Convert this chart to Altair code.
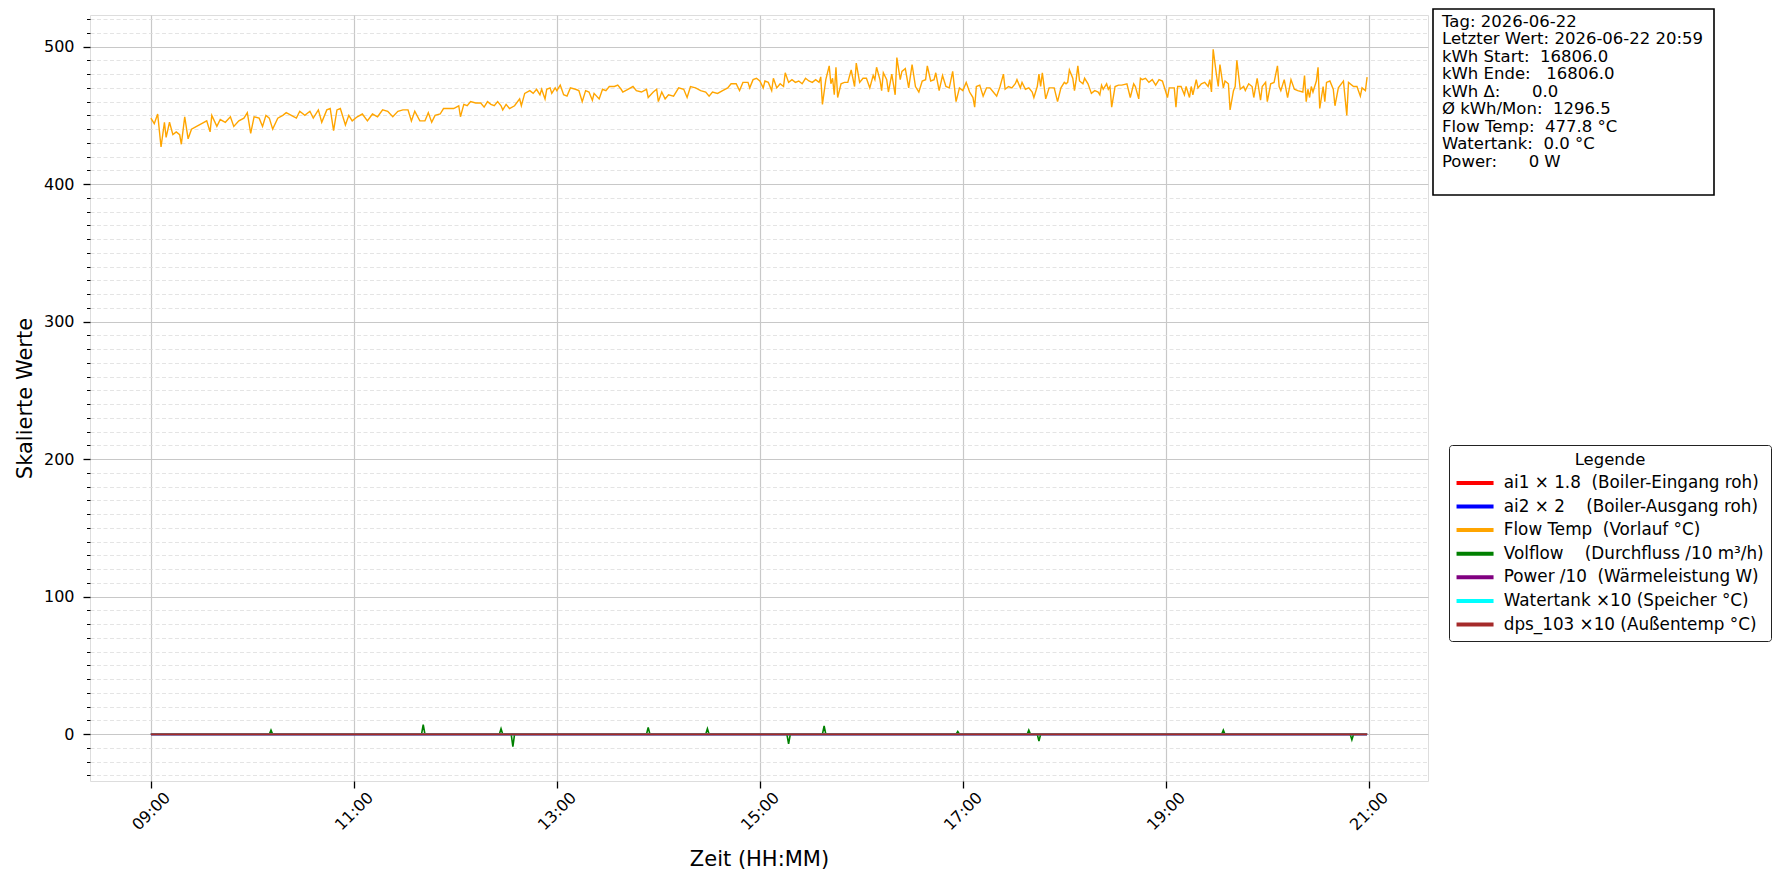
import altair as alt
import pandas as pd

DAY = "2026-06-22"

series_labels = [
    "ai1 × 1.8  (Boiler-Eingang roh)",
    "ai2 × 2    (Boiler-Ausgang roh)",
    "Flow Temp  (Vorlauf °C)",
    "Volflow    (Durchfluss /10 m³/h)",
    "Power /10  (Wärmeleistung W)",
    "Watertank ×10 (Speicher °C)",
    "dps_103 ×10 (Außentemp °C)",
]
series_colors = ["red", "blue", "orange", "green", "purple", "cyan", "brown"]

# Flow Temp: minutes after 09:00 and values
flow_min_a = [0, 2, 4, 6, 8, 9, 11, 13, 15, 17, 18, 20, 22, 24, 27, 30, 33, 35, 36, 39,
              41, 44, 47, 49, 52, 55, 57, 59, 61, 64, 66, 68, 70, 72, 75, 78, 80, 83, 86, 88,
              91, 94, 96, 99, 101, 104, 106, 108, 110, 112, 115, 117, 119, 122, 125, 128, 131, 134, 137, 140,
              143, 146, 149, 152, 154, 156, 159, 162, 164, 166, 168, 171, 173, 176, 179]
flow_val_a = [448, 444, 451, 427, 445, 434, 445, 436, 438, 436, 429, 449, 433, 440, 442, 444, 446, 438, 450, 442,
              447, 445, 449, 442, 446, 448, 452, 437, 449, 448, 442, 450, 448, 440, 448, 450, 452, 450, 448, 453,
              450, 453, 448, 454, 445, 454, 455, 439, 454, 455, 443, 450, 446, 449, 451, 446, 451, 449, 454, 453,
              449, 453, 454, 454, 446, 453, 446, 446, 452, 445, 450, 451, 455, 455, 455]

flow_min_b = [182, 183, 185, 187, 189, 192, 195, 197, 199, 201, 203, 205, 207, 208, 210, 212, 215, 218, 219, 221,
              224, 226, 228, 230, 231, 233, 234, 236, 237, 239, 240, 242, 244, 246, 248, 251, 253, 255, 257, 259,
              261, 262, 265, 267, 269, 271, 274, 276, 278, 279, 282, 285, 287, 290, 293, 294, 297, 299, 300, 302,
              304, 306, 309, 312, 315, 317, 319, 322, 325, 328, 330, 332, 335, 338, 341, 343, 346, 348, 350, 353,
              354, 356, 358, 360]
flow_val_b = [457, 449, 458, 457, 460, 459, 459, 456, 460, 458, 457, 460, 457, 454, 458, 455, 457, 462, 457, 466,
              468, 466, 469, 465, 469, 462, 469, 470, 466, 470, 468, 472, 465, 464, 470, 469, 468, 460, 468, 467,
              461, 466, 462, 469, 468, 471, 471, 472, 469, 467, 469, 471, 468, 467, 469, 463, 467, 469, 460, 467,
              462, 465, 464, 470, 469, 463, 471, 470, 468, 467, 464, 467, 466, 468, 470, 473, 473, 468, 474, 474,
              470, 476, 477, 475]

flow_min_c = [362, 363, 365, 367, 368, 370, 372, 374, 375, 377, 379, 381, 383, 385, 387, 389, 391, 393, 395, 396,
              397, 399, 401, 402, 403, 404, 405, 406, 408, 410, 412, 414, 416, 417, 419, 421, 423, 425, 427, 428,
              429, 431, 432, 433, 435, 436, 438, 440, 441, 443, 444, 446, 448, 450, 452, 454, 456, 458, 459, 461,
              463, 464, 466, 468, 470, 472, 474, 476, 478, 480, 482, 484, 486, 487, 488, 490, 492, 494, 496, 498,
              500, 502, 504, 505, 507, 509, 511, 512, 514, 515, 517, 519, 521, 522, 524, 525, 526, 527, 529, 531,
              534, 536, 538, 540]
flow_val_c = [470, 475, 474, 468, 477, 470, 473, 471, 481, 474, 476, 474, 475, 473, 477, 475, 474, 476, 474, 478,
              458, 476, 486, 473, 477, 465, 485, 463, 473, 474, 474, 483, 471, 488, 474, 477, 477, 470, 479, 476,
              485, 476, 468, 481, 476, 467, 480, 465, 492, 476, 482, 484, 470, 487, 471, 467, 475, 476, 486, 475,
              476, 481, 468, 479, 471, 470, 482, 460, 470, 468, 474, 467, 463, 456, 471, 472, 464, 470, 470, 467,
              464, 471, 480, 469, 471, 470, 473, 476, 470, 474, 469, 470, 467, 463, 471, 480, 471, 481, 462, 470,
              470, 460, 470, 474]

flow_min_d = [541, 542, 543, 545, 546, 547, 548, 549, 551, 552, 554, 556, 558, 560, 561, 562, 563, 565, 566, 567,
              568, 570, 572, 574, 577, 579, 581, 582, 584, 585, 586, 588, 590, 592, 594, 596, 598, 599, 601, 602,
              605, 606, 607, 609, 611, 612, 614, 615, 616, 618, 619, 621, 623, 625, 626, 627, 628, 630, 631, 632,
              634, 635, 637, 638, 640, 641, 642, 644, 646, 647, 649, 651, 652, 654, 656, 657, 659, 660, 662, 664,
              666, 667, 668, 670, 672, 674, 676, 678, 681, 682, 683, 684, 685, 686, 687, 689, 690, 691, 693, 694,
              695, 697, 699, 700, 702, 705, 707, 708, 711, 713, 715, 716, 718, 719]
flow_val_d = [473, 474, 483, 477, 468, 476, 486, 475, 473, 477, 473, 466, 468, 467, 465, 472, 469, 473, 469, 471,
              456, 471, 472, 472, 473, 463, 473, 471, 462, 477, 476, 477, 474, 476, 472, 476, 475, 471, 463, 470,
              470, 456, 471, 471, 465, 471, 463, 471, 465, 476, 470, 473, 474, 471, 476, 467, 498, 479, 471, 487,
              470, 475, 473, 454, 468, 471, 490, 469, 471, 468, 473, 471, 463, 477, 461, 471, 474, 460, 473, 474,
              486, 471, 468, 476, 463, 476, 469, 468, 467, 479, 460, 469, 463, 471, 467, 475, 485, 455, 471, 460,
              474, 475, 469, 457, 470, 475, 450, 474, 471, 471, 464, 470, 468, 477.8]

# Volflow (/10): mostly zero with short spikes
vol_times = ["09:00", "10:10", "10:11", "10:12", "11:40", "11:41", "11:42", "12:26", "12:27", "12:28",
             "12:33", "12:34", "12:35", "13:53", "13:54", "13:55", "14:28", "14:29", "14:30",
             "15:16", "15:17", "15:18", "15:37", "15:38", "15:39", "16:56", "16:57", "16:58",
             "17:38", "17:39", "17:40", "17:44", "17:45", "17:46", "19:33", "19:34", "19:35",
             "20:49", "20:50", "20:51", "20:59"]
vol_vals = [0, 0, 3, 0, 0, 7, 0, 0, 4, 0,
            0, -9, 0, 0, 5, 0, 0, 4, 0,
            0, -7, 0, 0, 6, 0, 0, 2, 0,
            0, 3, 0, 0, -5, 0, 0, 3, 0,
            0, -4, 0, 0]

# flat series (ai1, ai2, Power, Watertank, dps_103)
flat_times = ["09:00", "20:59"]
flat_vals = [0, 0]

x_tick_labels = ["09:00", "11:00", "13:00", "15:00", "17:00", "19:00", "21:00"]
y_major = [0, 100, 200, 300, 400, 500]
y_minor = [v for v in range(-30, 530, 10) if v % 100 != 0]

info_lines = [
    "Tag: 2026-06-22",
    "Letzter Wert: 2026-06-22 20:59",
    "kWh Start:  16806.0",
    "kWh Ende:   16806.0",
    "kWh Δ:      0.0",
    "Ø kWh/Mon:  1296.5",
    "Flow Temp:  477.8 °C",
    "Watertank:  0.0 °C",
    "Power:      0 W",
]

FONT = "DejaVu Sans"
NB = "\u00a0"

# keep repeated spaces visible in SVG text
labels_nb = [s.replace(" ", NB) for s in series_labels]

# ---------------- data frame ----------------
base = pd.Timestamp(f"{DAY} 09:00")
flow_min = flow_min_a + flow_min_b + flow_min_c + flow_min_d
flow_val = flow_val_a + flow_val_b + flow_val_c + flow_val_d
frames = []
frames.append(pd.DataFrame({
    "time": base + pd.to_timedelta(flow_min, unit="m"),
    "value": flow_val, "series": labels_nb[2]}))
frames.append(pd.DataFrame({
    "time": pd.to_datetime([f"{DAY} {t}" for t in vol_times]),
    "value": vol_vals, "series": labels_nb[3]}))
for i in [0, 1, 4, 5, 6]:
    frames.append(pd.DataFrame({
        "time": pd.to_datetime([f"{DAY} {t}" for t in flat_times]),
        "value": flat_vals, "series": labels_nb[i]}))
df = pd.concat(frames, ignore_index=True)

x_values = [alt.DateTime(year=2026, month=6, date=22, hours=int(t[:2]), minutes=int(t[3:]))
            for t in x_tick_labels]

x_enc = alt.X(
    "time:T",
    scale=alt.Scale(domain=[alt.DateTime(year=2026, month=6, date=22, hours=8, minutes=24),
                            alt.DateTime(year=2026, month=6, date=22, hours=21, minutes=35)]),
    axis=alt.Axis(values=x_values, format="%H:%M", labelAngle=-45, labelAlign="center",
                  labelBaseline="middle", labelPadding=23, tickSize=7, tickColor="black",
                  tickWidth=1.3, grid=True, gridColor="#c8c8c8", gridWidth=1.2, domain=False,
                  labelFontSize=16, labelColor="black", title="Zeit (HH:MM)", titleFontSize=21,
                  titleFontWeight="normal", titleColor="black", titleY=84,
                  titleBaseline="alphabetic", labelFont=FONT, titleFont=FONT),
)

y_scale = alt.Scale(domain=[-34, 523], nice=False, zero=False)
y_major_enc = alt.Y(
    "value:Q", scale=y_scale,
    axis=alt.Axis(values=y_major, orient="left", tickSize=7, tickColor="black", tickWidth=1.3,
                  labelPadding=9, grid=True, gridColor="#c8c8c8", gridWidth=1.2, domain=False,
                  labelFontSize=16, labelColor="black", title="Skalierte Werte", titleFontSize=21,
                  titleFontWeight="normal", titleColor="black", titleX=-59,
                  titleBaseline="alphabetic", labelFont=FONT, titleFont=FONT, zindex=0),
)
y_minor_enc = alt.Y(
    "value:Q", scale=y_scale,
    axis=alt.Axis(values=y_minor, orient="left", tickSize=3.5, tickColor="black", tickWidth=1,
                  labels=False, grid=True, gridColor="#dddddd", gridWidth=0.8,
                  gridDash=[4, 2.5], domain=False, title=None, zindex=0),
)

color_enc = alt.Color(
    "series:N",
    scale=alt.Scale(domain=labels_nb, range=series_colors),
    legend=alt.Legend(title="Legende", orient="none", legendX=1359, legendY=430, padding=7,
                      strokeColor="#222222", fillColor="white", cornerRadius=3,
                      titleAnchor="middle", titleFontSize=16.5, titleFontWeight="normal",
                      titleColor="black", titleFont=FONT, labelFont=FONT,
                      labelFontSize=16.8, labelColor="black", symbolType="M-1.7,0H6.3",
                      symbolSize=85.6, symbolStrokeWidth=4, rowPadding=5.6, titlePadding=6,
                      labelOffset=31, labelLimit=0),
)


def line(label, width, y_enc):
    return (alt.Chart(df)
            .transform_filter(alt.datum.series == label)
            .mark_line(strokeWidth=width)
            .encode(x=x_enc, y=y_enc, color=color_enc))


first = line(labels_nb[0], 2, y_minor_enc)
rest = alt.layer(
    line(labels_nb[1], 2, y_major_enc),
    line(labels_nb[2], 1.4, y_major_enc),
    line(labels_nb[3], 1.6, y_major_enc),
    line(labels_nb[4], 2, y_major_enc),
    line(labels_nb[5], 2, y_major_enc),
    line(labels_nb[6], 2, y_major_enc),
)

info_df = pd.DataFrame({"txt": ["\n".join(l.replace(" ", NB) for l in info_lines)]})
box = alt.Chart(info_df).mark_rect(fill="white", stroke="black", strokeWidth=1.6).encode(
    x=alt.value(1343), x2=alt.value(1624), y=alt.value(-6), y2=alt.value(180))
info = alt.Chart(info_df).mark_text(
    align="left", baseline="alphabetic", fontSize=16.5, font=FONT, color="black",
    lineBreak="\n", lineHeight=17.5).encode(
    x=alt.value(1352), y=alt.value(11.7), text="txt:N")

chart = (alt.layer(first, rest, box, info)
         .resolve_axis(y="independent")
         .properties(width=1338, height=766,
                     padding={"left": 82, "top": 7, "right": 346, "bottom": 95},
                     autosize=alt.AutoSizeParams(type="none"))
         .configure_view(stroke="black", strokeWidth=1.5)
         .configure(font=FONT))

chart.save("out.html", embed_options={"renderer": "svg", "actions": False})
